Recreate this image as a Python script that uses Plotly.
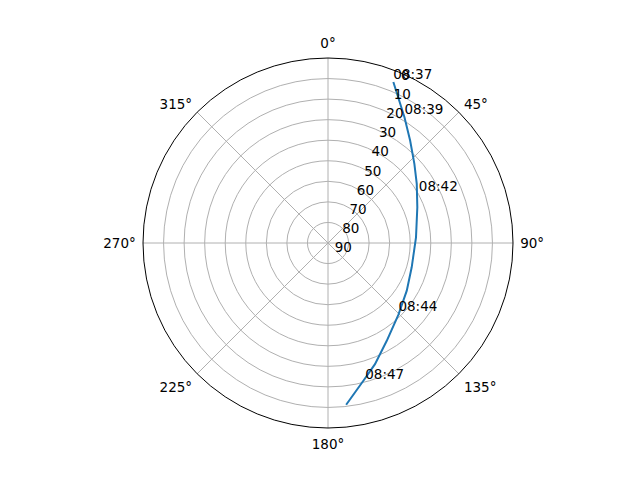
import plotly.graph_objects as go

# satellite pass track: azimuth (deg) and elevation (deg)
azimuth = [22.1, 31.3, 38.7, 47.5, 56.3, 68.2, 86.3, 106.2, 121.2, 135.5, 149.0, 158.8, 165.6, 173.6]
elevation = [5.5, 18.4, 26.1, 33.0, 38.1, 43.2, 47.1, 47.6, 45.2, 41.1, 34.5, 26.8, 20.8, 10.8]

# time labels along the track
label_times = ["08:37", "08:39", "08:42", "08:44", "08:47"]
label_az = [22.1, 31.3, 61.9, 135.5, 165.0]
label_el = [5.5, 18.4, 39.9, 41.1, 20.0]

radial_ticks = [0, 10, 20, 30, 40, 50, 60, 70, 80, 90]
angle_ticks = [0, 45, 90, 135, 180, 225, 270, 315]

fig = go.Figure()

fig.add_trace(go.Scatterpolar(
    r=elevation,
    theta=azimuth,
    mode="lines",
    line=dict(color="#1f77b4", width=2),
    showlegend=False,
))

fig.add_trace(go.Scatterpolar(
    r=label_el,
    theta=label_az,
    mode="text",
    text=label_times,
    textposition="top right",
    textfont=dict(color="black", size=13.5),
    showlegend=False,
))

# page body adds an 8px offset, so margins are shifted to compensate
fig.update_layout(
    width=640,
    height=480,
    margin=dict(l=72, r=72, t=50, b=60, autoexpand=False),
    paper_bgcolor="white",
    font=dict(family="DejaVu Sans", size=13.5, color="black"),
    polar=dict(
        bgcolor="white",
        angularaxis=dict(
            rotation=90,
            direction="clockwise",
            tickmode="array",
            tickvals=angle_ticks,
            ticktext=[f"{a}°" for a in angle_ticks],
            ticks="outside",
            ticklen=4,
            tickcolor="rgba(0,0,0,0)",
            showline=True,
            linecolor="black",
            linewidth=1,
            gridcolor="#b0b0b0",
            gridwidth=1,
        ),
        radialaxis=dict(
            range=[90, 0],
            tickmode="array",
            tickvals=radial_ticks,
            ticktext=[str(t) for t in radial_ticks],
            angle=69,
            tickangle=69,
            showline=False,
            ticks="",
            gridcolor="#b0b0b0",
            gridwidth=1,
        ),
    ),
)

fig.write_html("out.html")
